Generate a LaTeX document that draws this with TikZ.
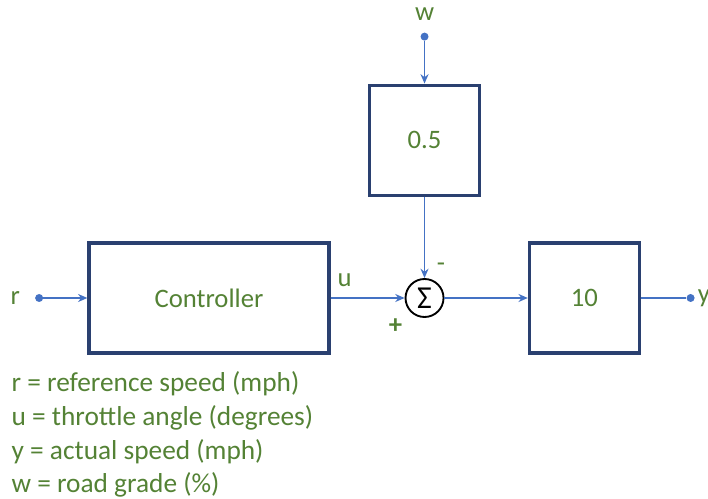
\documentclass[tikz,border=0pt]{standalone}
\usepackage{fontspec}
\setmainfont{Carlito}
\usepackage{xcolor}
\usetikzlibrary{shapes,arrows.meta,positioning,calc}

\definecolor{txtgreen}{RGB}{84,130,53}
\definecolor{boxblue}{RGB}{42,64,112}
\definecolor{lineblue}{RGB}{68,114,196}

\begin{document}
\begin{tikzpicture}[
      x=0.75pt, y=-0.75pt,
      box/.style={rectangle, draw=boxblue, line width=2.4pt, align=center, minimum width=82.5pt, minimum height=82.5pt, text=txtgreen, font=\fontsize{20}{24}\selectfont},
      sumnode/.style={circle, draw=black, line width=1.4pt, minimum size=28.5pt, inner sep=0pt, font=\fontsize{24}{24}\selectfont},
      dot/.style={circle, fill=lineblue, minimum size=6pt, inner sep=0pt},
      lbl/.style={text=txtgreen, inner sep=1pt, font=\fontsize{20}{24}\selectfont},
      arrow/.style={-{Stealth[length=7pt,width=6pt]}, draw=lineblue, line width=1.4pt},
      wire/.style={draw=lineblue, line width=1.4pt}
    ]

    \useasboundingbox (0,0) rectangle (708,499);

    % ============ MAIN LOOP ============
    \node[box, minimum width=180pt] (ctrl) at (209,298) {Controller};
    \node[sumnode, right=55.5pt of ctrl] (sum) {Σ};
    \node[box, right=62.5pt of sum] (plant) {10};
    \node[box, above=61pt of sum] (grade) {0.5};

    % Inputs and outputs
    \node[dot, left=33pt of ctrl] (rin) {};
    \node[dot, above=32pt of grade] (win) {};
    \node[dot, right=34pt of plant] (yout) {};

    \node[lbl, left=10pt of rin] (rlbl) {r};
    \node[lbl, above=8pt of win] (wlbl) {w};
    \node[lbl, right=2pt of yout, inner sep=0pt] (ylbl) {y};

    % Signs
    \node[lbl, above right=7pt and 4pt of ctrl.east] (ulbl) {u};
    \node[lbl, above right=4pt and 8pt of sum.north] (minus) {-};
    \node[lbl, below left=4pt and 5pt of sum.south west, font=\bfseries\fontsize{20}{24}\selectfont] (plus) {+};

    % Arrows
    \draw[arrow] (rin) -- (ctrl);
    \draw[arrow] (ctrl) -- (sum);
    \draw[arrow] (win) -- (grade);
    \draw[arrow] (grade) -- (sum);
    \draw[arrow] (sum) -- (plant);
    \draw[wire] (plant) -- (yout);

    % ============ LEGEND ============
    \node[lbl, anchor=north west, align=left, font=\fontsize{20.5}{25.3}\selectfont] (legend) at (10,370) {%
      r = reference speed (mph)\\
      u = throttle angle (degrees)\\
      y = actual speed (mph)\\
      w = road grade (\%)};

  \end{tikzpicture}
\end{document}
